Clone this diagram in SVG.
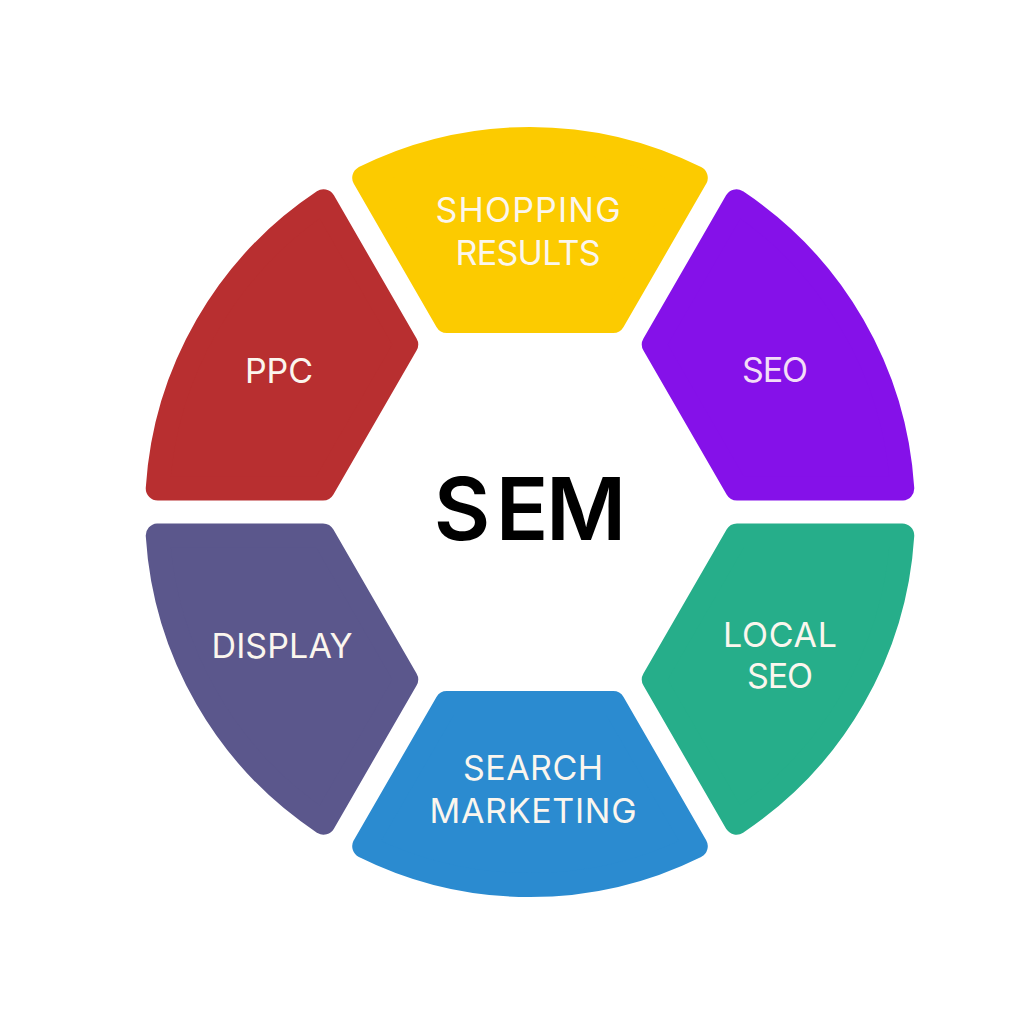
<svg xmlns="http://www.w3.org/2000/svg" xmlns:xlink="http://www.w3.org/1999/xlink" width="1024" height="1024" viewBox="0 0 1024 1024">
  <style>
    .seg { stroke-width: 24; stroke-linejoin: round; }
    .lbl { font-family: Inter, "Open Sans", "Liberation Sans", sans-serif; font-size: 34px; font-weight: 400; fill: #FBF6EE; text-anchor: middle; }
    .title { font-family: Inter, "Open Sans", "Liberation Sans", sans-serif; font-size: 87px; font-weight: 600; fill: #000000; text-anchor: middle; }
  </style>
  <defs>
    <path id="sector" d="M -83.14,-191 L -165.78,-334.13 A 373 373 0 0 1 165.78,-334.13 L 83.14,-191 Z"/>
  </defs>
  <rect x="0" y="0" width="1024" height="1024" fill="#FFFFFF"/>

  <g id="node-shopping">
    <use xlink:href="#sector" href="#sector" class="seg" fill="#FCCB00" stroke="#FCCB00" transform="translate(530,512) rotate(0)"/>
    <text class="lbl" x="528" y="222" textLength="185" lengthAdjust="spacing">SHOPPING</text>
    <text class="lbl" x="528" y="265" textLength="145" lengthAdjust="spacing">RESULTS</text>
  </g>
  <g id="node-seo">
    <use xlink:href="#sector" href="#sector" class="seg" fill="#8511E9" stroke="#8511E9" transform="translate(530,512) rotate(60)"/>
    <text class="lbl" x="775" y="382" textLength="66" lengthAdjust="spacing" style="fill:#F3DDF7">SEO</text>
  </g>
  <g id="node-local-seo">
    <use xlink:href="#sector" href="#sector" class="seg" fill="#26AE8A" stroke="#26AE8A" transform="translate(530,512) rotate(120)"/>
    <text class="lbl" x="780" y="647" textLength="114" lengthAdjust="spacing">LOCAL</text>
    <text class="lbl" x="780" y="688" textLength="66" lengthAdjust="spacing">SEO</text>
  </g>
  <g id="node-search-marketing">
    <use xlink:href="#sector" href="#sector" class="seg" fill="#2B8BD0" stroke="#2B8BD0" transform="translate(530,512) rotate(180)"/>
    <text class="lbl" x="533" y="780" textLength="140" lengthAdjust="spacing">SEARCH</text>
    <text class="lbl" x="533" y="823" textLength="207" lengthAdjust="spacing">MARKETING</text>
  </g>
  <g id="node-display">
    <use xlink:href="#sector" href="#sector" class="seg" fill="#5B578C" stroke="#5B578C" transform="translate(530,512) rotate(240)"/>
    <text class="lbl" x="282" y="658" textLength="141" lengthAdjust="spacing">DISPLAY</text>
  </g>
  <g id="node-ppc">
    <use xlink:href="#sector" href="#sector" class="seg" fill="#B82F30" stroke="#B82F30" transform="translate(530,512) rotate(300)"/>
    <text class="lbl" x="279" y="383" textLength="68" lengthAdjust="spacing">PPC</text>
  </g>
  <g id="node-sem">
    <text class="title" y="540"><tspan x="462">S</tspan><tspan x="522">E</tspan><tspan x="586">M</tspan></text>
  </g>
  <g id="connectors"></g>
</svg>
